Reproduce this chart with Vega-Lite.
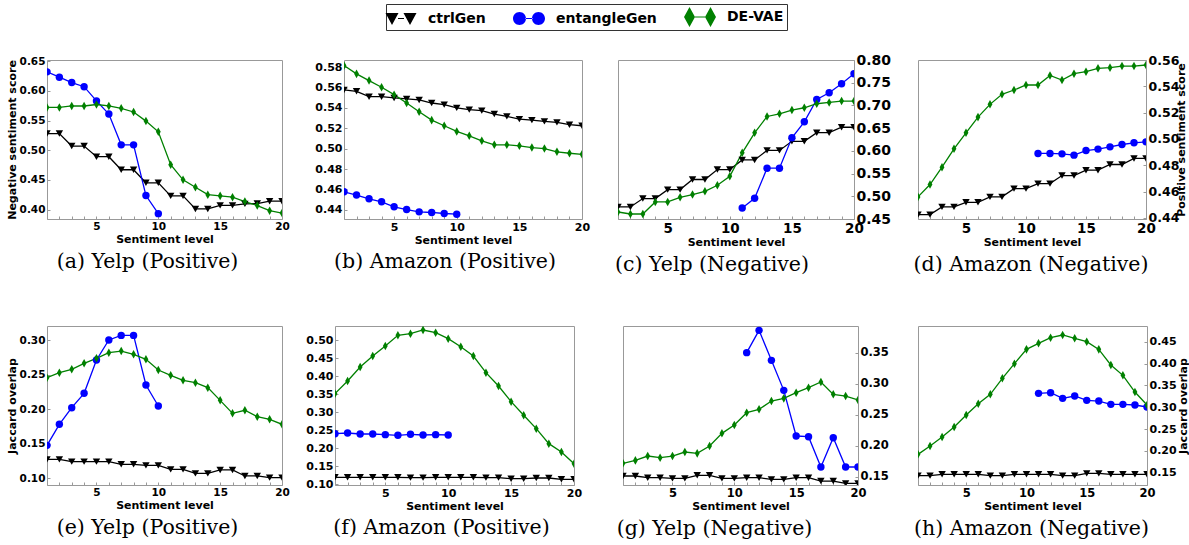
{
"$schema": "https://vega.github.io/schema/vega-lite/v6.json",
"padding": {"left": 5, "top": 3, "right": 0, "bottom": 0},
"background": "white",
"datasets": {
"a": [
{"m":"ctrlGen","x":1,"y":0.528},{"m":"ctrlGen","x":2,"y":0.528},{"m":"ctrlGen","x":3,"y":0.507},{"m":"ctrlGen","x":4,"y":0.507},{"m":"ctrlGen","x":5,"y":0.489},{"m":"ctrlGen","x":6,"y":0.489},{"m":"ctrlGen","x":7,"y":0.467},{"m":"ctrlGen","x":8,"y":0.467},{"m":"ctrlGen","x":9,"y":0.445},{"m":"ctrlGen","x":10,"y":0.445},{"m":"ctrlGen","x":11,"y":0.423},{"m":"ctrlGen","x":12,"y":0.423},{"m":"ctrlGen","x":13,"y":0.401},{"m":"ctrlGen","x":14,"y":0.401},{"m":"ctrlGen","x":15,"y":0.407},{"m":"ctrlGen","x":16,"y":0.407},{"m":"ctrlGen","x":17,"y":0.4095},{"m":"ctrlGen","x":18,"y":0.41},{"m":"ctrlGen","x":19,"y":0.414},{"m":"ctrlGen","x":20,"y":0.414},
{"m":"entangleGen","x":1,"y":0.632},{"m":"entangleGen","x":2,"y":0.623},{"m":"entangleGen","x":3,"y":0.614},{"m":"entangleGen","x":4,"y":0.607},{"m":"entangleGen","x":5,"y":0.583},{"m":"entangleGen","x":6,"y":0.561},{"m":"entangleGen","x":7,"y":0.509},{"m":"entangleGen","x":8,"y":0.509},{"m":"entangleGen","x":9,"y":0.4235},{"m":"entangleGen","x":10,"y":0.393},
{"m":"DE-VAE","x":1,"y":0.572},{"m":"DE-VAE","x":2,"y":0.572},{"m":"DE-VAE","x":3,"y":0.5745},{"m":"DE-VAE","x":4,"y":0.5745},{"m":"DE-VAE","x":5,"y":0.577},{"m":"DE-VAE","x":6,"y":0.5745},{"m":"DE-VAE","x":7,"y":0.5706},{"m":"DE-VAE","x":8,"y":0.5644},{"m":"DE-VAE","x":9,"y":0.549},{"m":"DE-VAE","x":10,"y":0.531},{"m":"DE-VAE","x":11,"y":0.4755},{"m":"DE-VAE","x":12,"y":0.45},{"m":"DE-VAE","x":13,"y":0.4375},{"m":"DE-VAE","x":14,"y":0.425},{"m":"DE-VAE","x":15,"y":0.423},{"m":"DE-VAE","x":16,"y":0.4207},{"m":"DE-VAE","x":17,"y":0.4134},{"m":"DE-VAE","x":18,"y":0.4067},{"m":"DE-VAE","x":19,"y":0.398},{"m":"DE-VAE","x":20,"y":0.394}
],
"b": [
{"m":"ctrlGen","x":1,"y":0.5576},{"m":"ctrlGen","x":2,"y":0.5563},{"m":"ctrlGen","x":3,"y":0.551},{"m":"ctrlGen","x":4,"y":0.551},{"m":"ctrlGen","x":5,"y":0.5498},{"m":"ctrlGen","x":6,"y":0.5488},{"m":"ctrlGen","x":7,"y":0.5478},{"m":"ctrlGen","x":8,"y":0.5448},{"m":"ctrlGen","x":9,"y":0.5432},{"m":"ctrlGen","x":10,"y":0.54},{"m":"ctrlGen","x":11,"y":0.5383},{"m":"ctrlGen","x":12,"y":0.5373},{"m":"ctrlGen","x":13,"y":0.534},{"m":"ctrlGen","x":14,"y":0.5317},{"m":"ctrlGen","x":15,"y":0.529},{"m":"ctrlGen","x":16,"y":0.528},{"m":"ctrlGen","x":17,"y":0.5268},{"m":"ctrlGen","x":18,"y":0.5258},{"m":"ctrlGen","x":19,"y":0.5235},{"m":"ctrlGen","x":20,"y":0.5225},
{"m":"entangleGen","x":1,"y":0.4577},{"m":"entangleGen","x":2,"y":0.4545},{"m":"entangleGen","x":3,"y":0.4508},{"m":"entangleGen","x":4,"y":0.4479},{"m":"entangleGen","x":5,"y":0.443},{"m":"entangleGen","x":6,"y":0.4403},{"m":"entangleGen","x":7,"y":0.438},{"m":"entangleGen","x":8,"y":0.4374},{"m":"entangleGen","x":9,"y":0.4364},{"m":"entangleGen","x":10,"y":0.4357},
{"m":"DE-VAE","x":1,"y":0.5816},{"m":"DE-VAE","x":2,"y":0.5734},{"m":"DE-VAE","x":3,"y":0.5668},{"m":"DE-VAE","x":4,"y":0.5603},{"m":"DE-VAE","x":5,"y":0.553},{"m":"DE-VAE","x":6,"y":0.5448},{"m":"DE-VAE","x":7,"y":0.5363},{"m":"DE-VAE","x":8,"y":0.528},{"m":"DE-VAE","x":9,"y":0.5225},{"m":"DE-VAE","x":10,"y":0.5169},{"m":"DE-VAE","x":11,"y":0.5126},{"m":"DE-VAE","x":12,"y":0.5077},{"m":"DE-VAE","x":13,"y":0.5038},{"m":"DE-VAE","x":14,"y":0.5038},{"m":"DE-VAE","x":15,"y":0.5028},{"m":"DE-VAE","x":16,"y":0.5011},{"m":"DE-VAE","x":17,"y":0.5001},{"m":"DE-VAE","x":18,"y":0.4969},{"m":"DE-VAE","x":19,"y":0.4955},{"m":"DE-VAE","x":20,"y":0.4945}
],
"c": [
{"m":"ctrlGen","x":1,"y":0.4765},{"m":"ctrlGen","x":2,"y":0.4765},{"m":"ctrlGen","x":3,"y":0.495},{"m":"ctrlGen","x":4,"y":0.495},{"m":"ctrlGen","x":5,"y":0.5147},{"m":"ctrlGen","x":6,"y":0.5147},{"m":"ctrlGen","x":7,"y":0.537},{"m":"ctrlGen","x":8,"y":0.537},{"m":"ctrlGen","x":9,"y":0.5588},{"m":"ctrlGen","x":10,"y":0.5588},{"m":"ctrlGen","x":11,"y":0.58},{"m":"ctrlGen","x":12,"y":0.58},{"m":"ctrlGen","x":13,"y":0.601},{"m":"ctrlGen","x":14,"y":0.601},{"m":"ctrlGen","x":15,"y":0.621},{"m":"ctrlGen","x":16,"y":0.621},{"m":"ctrlGen","x":17,"y":0.64},{"m":"ctrlGen","x":18,"y":0.64},{"m":"ctrlGen","x":19,"y":0.652},{"m":"ctrlGen","x":20,"y":0.652},
{"m":"entangleGen","x":11,"y":0.4743},{"m":"entangleGen","x":12,"y":0.4956},{"m":"entangleGen","x":13,"y":0.5618},{"m":"entangleGen","x":14,"y":0.5618},{"m":"entangleGen","x":15,"y":0.6287},{"m":"entangleGen","x":16,"y":0.664},{"m":"entangleGen","x":17,"y":0.7132},{"m":"entangleGen","x":18,"y":0.7279},{"m":"entangleGen","x":19,"y":0.7478},{"m":"entangleGen","x":20,"y":0.7699},
{"m":"DE-VAE","x":1,"y":0.4654},{"m":"DE-VAE","x":2,"y":0.461},{"m":"DE-VAE","x":3,"y":0.461},{"m":"DE-VAE","x":4,"y":0.4875},{"m":"DE-VAE","x":5,"y":0.4875},{"m":"DE-VAE","x":6,"y":0.4978},{"m":"DE-VAE","x":7,"y":0.5037},{"m":"DE-VAE","x":8,"y":0.511},{"m":"DE-VAE","x":9,"y":0.5243},{"m":"DE-VAE","x":10,"y":0.5441},{"m":"DE-VAE","x":11,"y":0.5956},{"m":"DE-VAE","x":12,"y":0.6397},{"m":"DE-VAE","x":13,"y":0.6757},{"m":"DE-VAE","x":14,"y":0.6816},{"m":"DE-VAE","x":15,"y":0.6897},{"m":"DE-VAE","x":16,"y":0.6949},{"m":"DE-VAE","x":17,"y":0.7037},{"m":"DE-VAE","x":18,"y":0.7066},{"m":"DE-VAE","x":19,"y":0.7096},{"m":"DE-VAE","x":20,"y":0.7096}
],
"d": [
{"m":"ctrlGen","x":1,"y":0.4425},{"m":"ctrlGen","x":2,"y":0.4425},{"m":"ctrlGen","x":3,"y":0.4484},{"m":"ctrlGen","x":4,"y":0.4484},{"m":"ctrlGen","x":5,"y":0.4519},{"m":"ctrlGen","x":6,"y":0.4519},{"m":"ctrlGen","x":7,"y":0.456},{"m":"ctrlGen","x":8,"y":0.456},{"m":"ctrlGen","x":9,"y":0.4623},{"m":"ctrlGen","x":10,"y":0.4623},{"m":"ctrlGen","x":11,"y":0.4661},{"m":"ctrlGen","x":12,"y":0.4661},{"m":"ctrlGen","x":13,"y":0.4722},{"m":"ctrlGen","x":14,"y":0.4722},{"m":"ctrlGen","x":15,"y":0.4763},{"m":"ctrlGen","x":16,"y":0.4763},{"m":"ctrlGen","x":17,"y":0.4806},{"m":"ctrlGen","x":18,"y":0.4806},{"m":"ctrlGen","x":19,"y":0.4852},{"m":"ctrlGen","x":20,"y":0.4852},
{"m":"entangleGen","x":11,"y":0.489},{"m":"entangleGen","x":12,"y":0.489},{"m":"entangleGen","x":13,"y":0.4887},{"m":"entangleGen","x":14,"y":0.4877},{"m":"entangleGen","x":15,"y":0.4912},{"m":"entangleGen","x":16,"y":0.4923},{"m":"entangleGen","x":17,"y":0.494},{"m":"entangleGen","x":18,"y":0.4958},{"m":"entangleGen","x":19,"y":0.4971},{"m":"entangleGen","x":20,"y":0.4978},
{"m":"DE-VAE","x":1,"y":0.456},{"m":"DE-VAE","x":2,"y":0.4654},{"m":"DE-VAE","x":3,"y":0.4786},{"m":"DE-VAE","x":4,"y":0.4925},{"m":"DE-VAE","x":5,"y":0.5047},{"m":"DE-VAE","x":6,"y":0.5166},{"m":"DE-VAE","x":7,"y":0.5263},{"m":"DE-VAE","x":8,"y":0.5339},{"m":"DE-VAE","x":9,"y":0.5372},{"m":"DE-VAE","x":10,"y":0.541},{"m":"DE-VAE","x":11,"y":0.541},{"m":"DE-VAE","x":12,"y":0.5483},{"m":"DE-VAE","x":13,"y":0.5448},{"m":"DE-VAE","x":14,"y":0.5496},{"m":"DE-VAE","x":15,"y":0.5511},{"m":"DE-VAE","x":16,"y":0.5537},{"m":"DE-VAE","x":17,"y":0.5542},{"m":"DE-VAE","x":18,"y":0.5554},{"m":"DE-VAE","x":19,"y":0.5554},{"m":"DE-VAE","x":20,"y":0.5562}
],
"e": [
{"m":"ctrlGen","x":1,"y":0.1275},{"m":"ctrlGen","x":2,"y":0.1275},{"m":"ctrlGen","x":3,"y":0.1242},{"m":"ctrlGen","x":4,"y":0.1242},{"m":"ctrlGen","x":5,"y":0.1242},{"m":"ctrlGen","x":6,"y":0.1242},{"m":"ctrlGen","x":7,"y":0.1203},{"m":"ctrlGen","x":8,"y":0.1203},{"m":"ctrlGen","x":9,"y":0.1188},{"m":"ctrlGen","x":10,"y":0.1188},{"m":"ctrlGen","x":11,"y":0.113},{"m":"ctrlGen","x":12,"y":0.113},{"m":"ctrlGen","x":13,"y":0.1072},{"m":"ctrlGen","x":14,"y":0.1072},{"m":"ctrlGen","x":15,"y":0.1121},{"m":"ctrlGen","x":16,"y":0.1121},{"m":"ctrlGen","x":17,"y":0.1034},{"m":"ctrlGen","x":18,"y":0.1034},{"m":"ctrlGen","x":19,"y":0.101},{"m":"ctrlGen","x":20,"y":0.101},
{"m":"entangleGen","x":1,"y":0.1478},{"m":"entangleGen","x":2,"y":0.1783},{"m":"entangleGen","x":3,"y":0.2024},{"m":"entangleGen","x":4,"y":0.2232},{"m":"entangleGen","x":5,"y":0.2715},{"m":"entangleGen","x":6,"y":0.3005},{"m":"entangleGen","x":7,"y":0.3072},{"m":"entangleGen","x":8,"y":0.3072},{"m":"entangleGen","x":9,"y":0.2353},{"m":"entangleGen","x":10,"y":0.2048},
{"m":"DE-VAE","x":1,"y":0.2459},{"m":"DE-VAE","x":2,"y":0.2531},{"m":"DE-VAE","x":3,"y":0.258},{"m":"DE-VAE","x":4,"y":0.2667},{"m":"DE-VAE","x":5,"y":0.2739},{"m":"DE-VAE","x":6,"y":0.2821},{"m":"DE-VAE","x":7,"y":0.2845},{"m":"DE-VAE","x":8,"y":0.2797},{"m":"DE-VAE","x":9,"y":0.2725},{"m":"DE-VAE","x":10,"y":0.257},{"m":"DE-VAE","x":11,"y":0.2493},{"m":"DE-VAE","x":12,"y":0.242},{"m":"DE-VAE","x":13,"y":0.2386},{"m":"DE-VAE","x":14,"y":0.2314},{"m":"DE-VAE","x":15,"y":0.213},{"m":"DE-VAE","x":16,"y":0.1942},{"m":"DE-VAE","x":17,"y":0.1986},{"m":"DE-VAE","x":18,"y":0.1894},{"m":"DE-VAE","x":19,"y":0.1855},{"m":"DE-VAE","x":20,"y":0.1783}
],
"f": [
{"m":"ctrlGen","x":1,"y":0.1194},{"m":"ctrlGen","x":2,"y":0.1194},{"m":"ctrlGen","x":3,"y":0.1194},{"m":"ctrlGen","x":4,"y":0.1194},{"m":"ctrlGen","x":5,"y":0.1194},{"m":"ctrlGen","x":6,"y":0.1194},{"m":"ctrlGen","x":7,"y":0.1185},{"m":"ctrlGen","x":8,"y":0.1185},{"m":"ctrlGen","x":9,"y":0.1194},{"m":"ctrlGen","x":10,"y":0.1194},{"m":"ctrlGen","x":11,"y":0.1194},{"m":"ctrlGen","x":12,"y":0.1194},{"m":"ctrlGen","x":13,"y":0.1185},{"m":"ctrlGen","x":14,"y":0.1185},{"m":"ctrlGen","x":15,"y":0.1157},{"m":"ctrlGen","x":16,"y":0.1157},{"m":"ctrlGen","x":17,"y":0.1176},{"m":"ctrlGen","x":18,"y":0.1176},{"m":"ctrlGen","x":19,"y":0.1139},{"m":"ctrlGen","x":20,"y":0.1139},
{"m":"entangleGen","x":1,"y":0.2407},{"m":"entangleGen","x":2,"y":0.2426},{"m":"entangleGen","x":3,"y":0.2398},{"m":"entangleGen","x":4,"y":0.2398},{"m":"entangleGen","x":5,"y":0.238},{"m":"entangleGen","x":6,"y":0.2361},{"m":"entangleGen","x":7,"y":0.2389},{"m":"entangleGen","x":8,"y":0.237},{"m":"entangleGen","x":9,"y":0.238},{"m":"entangleGen","x":10,"y":0.237},
{"m":"DE-VAE","x":1,"y":0.3519},{"m":"DE-VAE","x":2,"y":0.387},{"m":"DE-VAE","x":3,"y":0.4259},{"m":"DE-VAE","x":4,"y":0.4565},{"m":"DE-VAE","x":5,"y":0.4843},{"m":"DE-VAE","x":6,"y":0.5139},{"m":"DE-VAE","x":7,"y":0.5185},{"m":"DE-VAE","x":8,"y":0.5287},{"m":"DE-VAE","x":9,"y":0.5213},{"m":"DE-VAE","x":10,"y":0.5046},{"m":"DE-VAE","x":11,"y":0.4824},{"m":"DE-VAE","x":12,"y":0.4565},{"m":"DE-VAE","x":13,"y":0.4102},{"m":"DE-VAE","x":14,"y":0.3731},{"m":"DE-VAE","x":15,"y":0.3296},{"m":"DE-VAE","x":16,"y":0.2917},{"m":"DE-VAE","x":17,"y":0.2546},{"m":"DE-VAE","x":18,"y":0.213},{"m":"DE-VAE","x":19,"y":0.1898},{"m":"DE-VAE","x":20,"y":0.1574}
],
"g": [
{"m":"ctrlGen","x":1,"y":0.1511},{"m":"ctrlGen","x":2,"y":0.1511},{"m":"ctrlGen","x":3,"y":0.1484},{"m":"ctrlGen","x":4,"y":0.1484},{"m":"ctrlGen","x":5,"y":0.1473},{"m":"ctrlGen","x":6,"y":0.1473},{"m":"ctrlGen","x":7,"y":0.1522},{"m":"ctrlGen","x":8,"y":0.1522},{"m":"ctrlGen","x":9,"y":0.1473},{"m":"ctrlGen","x":10,"y":0.1473},{"m":"ctrlGen","x":11,"y":0.1484},{"m":"ctrlGen","x":12,"y":0.1484},{"m":"ctrlGen","x":13,"y":0.1457},{"m":"ctrlGen","x":14,"y":0.1457},{"m":"ctrlGen","x":15,"y":0.1484},{"m":"ctrlGen","x":16,"y":0.1484},{"m":"ctrlGen","x":17,"y":0.143},{"m":"ctrlGen","x":18,"y":0.143},{"m":"ctrlGen","x":19,"y":0.1392},{"m":"ctrlGen","x":20,"y":0.1392},
{"m":"entangleGen","x":11,"y":0.35},{"m":"entangleGen","x":12,"y":0.386},{"m":"entangleGen","x":13,"y":0.3376},{"m":"entangleGen","x":14,"y":0.2892},{"m":"entangleGen","x":15,"y":0.2156},{"m":"entangleGen","x":16,"y":0.2145},{"m":"entangleGen","x":17,"y":0.1656},{"m":"entangleGen","x":18,"y":0.2129},{"m":"entangleGen","x":19,"y":0.1656},{"m":"entangleGen","x":20,"y":0.1656},
{"m":"DE-VAE","x":1,"y":0.1715},{"m":"DE-VAE","x":2,"y":0.1763},{"m":"DE-VAE","x":3,"y":0.1833},{"m":"DE-VAE","x":4,"y":0.1806},{"m":"DE-VAE","x":5,"y":0.1833},{"m":"DE-VAE","x":6,"y":0.1898},{"m":"DE-VAE","x":7,"y":0.1876},{"m":"DE-VAE","x":8,"y":0.1995},{"m":"DE-VAE","x":9,"y":0.2199},{"m":"DE-VAE","x":10,"y":0.2333},{"m":"DE-VAE","x":11,"y":0.2532},{"m":"DE-VAE","x":12,"y":0.2586},{"m":"DE-VAE","x":13,"y":0.272},{"m":"DE-VAE","x":14,"y":0.2763},{"m":"DE-VAE","x":15,"y":0.2855},{"m":"DE-VAE","x":16,"y":0.2935},{"m":"DE-VAE","x":17,"y":0.3027},{"m":"DE-VAE","x":18,"y":0.2828},{"m":"DE-VAE","x":19,"y":0.2801},{"m":"DE-VAE","x":20,"y":0.2737}
],
"h": [
{"m":"ctrlGen","x":1,"y":0.1432},{"m":"ctrlGen","x":2,"y":0.1432},{"m":"ctrlGen","x":3,"y":0.1463},{"m":"ctrlGen","x":4,"y":0.1463},{"m":"ctrlGen","x":5,"y":0.1463},{"m":"ctrlGen","x":6,"y":0.1463},{"m":"ctrlGen","x":7,"y":0.1432},{"m":"ctrlGen","x":8,"y":0.1432},{"m":"ctrlGen","x":9,"y":0.1463},{"m":"ctrlGen","x":10,"y":0.1463},{"m":"ctrlGen","x":11,"y":0.1463},{"m":"ctrlGen","x":12,"y":0.1463},{"m":"ctrlGen","x":13,"y":0.1432},{"m":"ctrlGen","x":14,"y":0.1432},{"m":"ctrlGen","x":15,"y":0.1485},{"m":"ctrlGen","x":16,"y":0.1485},{"m":"ctrlGen","x":17,"y":0.1463},{"m":"ctrlGen","x":18,"y":0.1463},{"m":"ctrlGen","x":19,"y":0.1463},{"m":"ctrlGen","x":20,"y":0.1463},
{"m":"entangleGen","x":11,"y":0.3317},{"m":"entangleGen","x":12,"y":0.3332},{"m":"entangleGen","x":13,"y":0.3202},{"m":"entangleGen","x":14,"y":0.3256},{"m":"entangleGen","x":15,"y":0.3156},{"m":"entangleGen","x":16,"y":0.3141},{"m":"entangleGen","x":17,"y":0.3065},{"m":"entangleGen","x":18,"y":0.3065},{"m":"entangleGen","x":19,"y":0.305},{"m":"entangleGen","x":20,"y":0.3004},
{"m":"DE-VAE","x":1,"y":0.192},{"m":"DE-VAE","x":2,"y":0.2111},{"m":"DE-VAE","x":3,"y":0.2317},{"m":"DE-VAE","x":4,"y":0.2546},{"m":"DE-VAE","x":5,"y":0.2821},{"m":"DE-VAE","x":6,"y":0.308},{"m":"DE-VAE","x":7,"y":0.3294},{"m":"DE-VAE","x":8,"y":0.366},{"m":"DE-VAE","x":9,"y":0.3996},{"m":"DE-VAE","x":10,"y":0.4324},{"m":"DE-VAE","x":11,"y":0.4462},{"m":"DE-VAE","x":12,"y":0.4592},{"m":"DE-VAE","x":13,"y":0.4653},{"m":"DE-VAE","x":14,"y":0.4576},{"m":"DE-VAE","x":15,"y":0.45},{"m":"DE-VAE","x":16,"y":0.4324},{"m":"DE-VAE","x":17,"y":0.3966},{"m":"DE-VAE","x":18,"y":0.3729},{"m":"DE-VAE","x":19,"y":0.3347},{"m":"DE-VAE","x":20,"y":0.305}
]
},
"vconcat": [
{"spacing": 23, "hconcat": [
{"spacing": 24, "hconcat": [
{"width": 235, "height": 159, "data": {"name": "a"}, "title": {"text": "(a) Yelp (Positive)", "dx": -17},
 "encoding": {
  "x": {"field": "x", "type": "quantitative", "scale": {"domain": [1, 20], "nice": false, "zero": false}, "axis": {"title": "Sentiment level", "values": [1,2,3,4,5,6,7,8,9,10,11,12,13,14,15,16,17,18,19,20], "labelExpr": "datum.value % 5 == 0 ? datum.label : ''", "labelFontSize": 10.5}},
  "y": {"field": "y", "type": "quantitative", "scale": {"domain": [0.384, 0.652], "nice": false, "zero": false}, "axis": {"title": "Negative sentiment score", "values": [0.4, 0.45, 0.5, 0.55, 0.6, 0.65], "format": ".2f", "labelFontSize": 10.5}},
  "color": {"field": "m", "type": "nominal", "scale": {"domain": ["ctrlGen", "entangleGen", "DE-VAE"], "range": ["#000000", "#0000ff", "#008000"]},
   "legend": {"title": null, "orient": "none", "legendX": 339, "legendY": -56, "direction": "horizontal", "padding": 3, "strokeColor": "#333333", "fillColor": "#ffffff", "labelFont": "DejaVu Sans", "labelFontSize": 14, "labelFontWeight": "bold", "labelColor": "#000000", "symbolSize": 400, "symbolOffset": 2, "labelOffset": 17, "columnPadding": 27,
    "encode": {"symbols": {"update": {"shape": {"signal": "datum.value == 'ctrlGen' ? 'M-1.55,-0.55L-0.25,-0.55L-0.9,0.65Z M0.25,-0.55L1.55,-0.55L0.9,0.65Z M-0.3,-0.06L0.3,-0.06L0.3,0.06L-0.3,0.06Z' : datum.value == 'entangleGen' ? 'M-1.6,0A0.65,0.65,0,1,0,-0.3,0A0.65,0.65,0,1,0,-1.6,0Z M0.3,0A0.65,0.65,0,1,0,1.6,0A0.65,0.65,0,1,0,0.3,0Z M-0.35,-0.06L0.35,-0.06L0.35,0.06L-0.35,0.06Z' : 'M-1.05,-1L-0.5,0L-1.05,1L-1.6,0Z M1.05,-1L1.6,0L1.05,1L0.5,0Z M-0.5,-0.06L0.5,-0.06L0.5,0.06L-0.5,0.06Z'"}, "fill": {"signal": "datum.value == 'ctrlGen' ? '#000000' : datum.value == 'entangleGen' ? '#0000ff' : '#008000'"}, "strokeWidth": {"value": 0}, "opacity": {"value": 1}, "fillOpacity": {"value": 1}}}}}}
 },
 "layer": [
  {"mark": {"type": "line", "strokeWidth": 1.3, "clip": true}},
  {"transform": [{"filter": "datum.m == 'ctrlGen'"}], "mark": {"type": "point", "filled": true, "opacity": 1, "size": 55, "shape": "triangle-down", "clip": true}},
  {"transform": [{"filter": "datum.m == 'entangleGen'"}], "mark": {"type": "point", "filled": true, "opacity": 1, "size": 55, "shape": "circle", "clip": true}},
  {"transform": [{"filter": "datum.m == 'DE-VAE'"}], "mark": {"type": "point", "filled": true, "opacity": 1, "size": 55, "shape": "M0,-1.15L0.65,0L0,1.15L-0.65,0Z", "clip": true}}
 ]},
{"width": 238, "height": 159, "data": {"name": "b"}, "title": {"text": "(b) Amazon (Positive)", "dx": -18},
 "encoding": {
  "x": {"field": "x", "type": "quantitative", "scale": {"domain": [1, 20], "nice": false, "zero": false}, "axis": {"title": "Sentiment level", "values": [1,2,3,4,5,6,7,8,9,10,11,12,13,14,15,16,17,18,19,20], "labelExpr": "datum.value % 5 == 0 ? datum.label : ''", "labelFontSize": 11}},
  "y": {"field": "y", "type": "quantitative", "scale": {"domain": [0.431, 0.587], "nice": false, "zero": false}, "axis": {"title": null, "values": [0.44, 0.46, 0.48, 0.5, 0.52, 0.54, 0.56, 0.58], "format": ".2f", "labelFontSize": 11}},
  "color": {"field": "m", "type": "nominal", "scale": {"domain": ["ctrlGen", "entangleGen", "DE-VAE"], "range": ["#000000", "#0000ff", "#008000"]}}
 },
 "layer": [
  {"mark": {"type": "line", "strokeWidth": 1.3, "clip": true}},
  {"transform": [{"filter": "datum.m == 'ctrlGen'"}], "mark": {"type": "point", "filled": true, "opacity": 1, "size": 55, "shape": "triangle-down", "clip": true}},
  {"transform": [{"filter": "datum.m == 'entangleGen'"}], "mark": {"type": "point", "filled": true, "opacity": 1, "size": 55, "shape": "circle", "clip": true}},
  {"transform": [{"filter": "datum.m == 'DE-VAE'"}], "mark": {"type": "point", "filled": true, "opacity": 1, "size": 55, "shape": "M0,-1.15L0.65,0L0,1.15L-0.65,0Z", "clip": true}}
 ]}
]},
{"spacing": 21, "hconcat": [
{"width": 236, "height": 159, "data": {"name": "c"}, "title": {"text": "(c) Yelp (Negative)", "dx": -24},
 "encoding": {
  "x": {"field": "x", "type": "quantitative", "scale": {"domain": [1, 20], "nice": false, "zero": false}, "axis": {"title": "Sentiment level", "values": [1,2,3,4,5,6,7,8,9,10,11,12,13,14,15,16,17,18,19,20], "labelExpr": "datum.value % 5 == 0 ? datum.label : ''", "labelFontSize": 13.5}},
  "y": {"field": "y", "type": "quantitative", "scale": {"domain": [0.45, 0.8], "nice": false, "zero": false}, "axis": {"title": null, "orient": "right", "values": [0.45, 0.5, 0.55, 0.6, 0.65, 0.7, 0.75, 0.8], "format": ".2f", "labelFontSize": 14}},
  "color": {"field": "m", "type": "nominal", "scale": {"domain": ["ctrlGen", "entangleGen", "DE-VAE"], "range": ["#000000", "#0000ff", "#008000"]}}
 },
 "layer": [
  {"mark": {"type": "line", "strokeWidth": 1.3, "clip": true}},
  {"transform": [{"filter": "datum.m == 'ctrlGen'"}], "mark": {"type": "point", "filled": true, "opacity": 1, "size": 55, "shape": "triangle-down", "clip": true}},
  {"transform": [{"filter": "datum.m == 'entangleGen'"}], "mark": {"type": "point", "filled": true, "opacity": 1, "size": 55, "shape": "circle", "clip": true}},
  {"transform": [{"filter": "datum.m == 'DE-VAE'"}], "mark": {"type": "point", "filled": true, "opacity": 1, "size": 55, "shape": "M0,-1.15L0.65,0L0,1.15L-0.65,0Z", "clip": true}}
 ]},
{"width": 228, "height": 159, "data": {"name": "d"}, "title": {"text": "(d) Amazon (Negative)", "dx": -1},
 "encoding": {
  "x": {"field": "x", "type": "quantitative", "scale": {"domain": [1, 20], "nice": false, "zero": false}, "axis": {"title": "Sentiment level", "values": [1,2,3,4,5,6,7,8,9,10,11,12,13,14,15,16,17,18,19,20], "labelExpr": "datum.value % 5 == 0 ? datum.label : ''", "labelFontSize": 13.5}},
  "y": {"field": "y", "type": "quantitative", "scale": {"domain": [0.4392, 0.56], "nice": false, "zero": false}, "axis": {"title": "Positive sentiment score", "orient": "right", "titleAngle": 270, "titleBaseline": "top", "titlePadding": -3, "values": [0.44, 0.46, 0.48, 0.5, 0.52, 0.54, 0.56], "format": ".2f", "labelFontSize": 12.5}},
  "color": {"field": "m", "type": "nominal", "scale": {"domain": ["ctrlGen", "entangleGen", "DE-VAE"], "range": ["#000000", "#0000ff", "#008000"]}}
 },
 "layer": [
  {"mark": {"type": "line", "strokeWidth": 1.3, "clip": true}},
  {"transform": [{"filter": "datum.m == 'ctrlGen'"}], "mark": {"type": "point", "filled": true, "opacity": 1, "size": 55, "shape": "triangle-down", "clip": true}},
  {"transform": [{"filter": "datum.m == 'entangleGen'"}], "mark": {"type": "point", "filled": true, "opacity": 1, "size": 55, "shape": "circle", "clip": true}},
  {"transform": [{"filter": "datum.m == 'DE-VAE'"}], "mark": {"type": "point", "filled": true, "opacity": 1, "size": 55, "shape": "M0,-1.15L0.65,0L0,1.15L-0.65,0Z", "clip": true}}
 ]}
]}
]},
{"spacing": 33, "hconcat": [
{"spacing": 15, "hconcat": [
{"width": 235, "height": 159, "data": {"name": "e"}, "title": {"text": "(e) Yelp (Positive)", "dx": -17},
 "encoding": {
  "x": {"field": "x", "type": "quantitative", "scale": {"domain": [1, 20], "nice": false, "zero": false}, "axis": {"title": "Sentiment level", "values": [1,2,3,4,5,6,7,8,9,10,11,12,13,14,15,16,17,18,19,20], "labelExpr": "datum.value % 5 == 0 ? datum.label : ''", "labelFontSize": 10.5}},
  "y": {"field": "y", "type": "quantitative", "scale": {"domain": [0.0903, 0.3208], "nice": false, "zero": false}, "axis": {"title": "Jaccard overlap", "values": [0.1, 0.15, 0.2, 0.25, 0.3], "format": ".2f", "labelFontSize": 10.5}},
  "color": {"field": "m", "type": "nominal", "scale": {"domain": ["ctrlGen", "entangleGen", "DE-VAE"], "range": ["#000000", "#0000ff", "#008000"]}}
 },
 "layer": [
  {"mark": {"type": "line", "strokeWidth": 1.3, "clip": true}},
  {"transform": [{"filter": "datum.m == 'ctrlGen'"}], "mark": {"type": "point", "filled": true, "opacity": 1, "size": 55, "shape": "triangle-down", "clip": true}},
  {"transform": [{"filter": "datum.m == 'entangleGen'"}], "mark": {"type": "point", "filled": true, "opacity": 1, "size": 55, "shape": "circle", "clip": true}},
  {"transform": [{"filter": "datum.m == 'DE-VAE'"}], "mark": {"type": "point", "filled": true, "opacity": 1, "size": 55, "shape": "M0,-1.15L0.65,0L0,1.15L-0.65,0Z", "clip": true}}
 ]},
{"width": 239, "height": 159, "data": {"name": "f"}, "title": {"text": "(f) Amazon (Positive)", "dx": -13},
 "encoding": {
  "x": {"field": "x", "type": "quantitative", "scale": {"domain": [1, 20], "nice": false, "zero": false}, "axis": {"title": "Sentiment level", "values": [1,2,3,4,5,6,7,8,9,10,11,12,13,14,15,16,17,18,19,20], "labelExpr": "datum.value % 5 == 0 ? datum.label : ''", "labelFontSize": 11}},
  "y": {"field": "y", "type": "quantitative", "scale": {"domain": [0.0981, 0.5398], "nice": false, "zero": false}, "axis": {"title": null, "values": [0.1, 0.15, 0.2, 0.25, 0.3, 0.35, 0.4, 0.45, 0.5], "format": ".2f", "labelFontSize": 11}},
  "color": {"field": "m", "type": "nominal", "scale": {"domain": ["ctrlGen", "entangleGen", "DE-VAE"], "range": ["#000000", "#0000ff", "#008000"]}}
 },
 "layer": [
  {"mark": {"type": "line", "strokeWidth": 1.3, "clip": true}},
  {"transform": [{"filter": "datum.m == 'ctrlGen'"}], "mark": {"type": "point", "filled": true, "opacity": 1, "size": 55, "shape": "triangle-down", "clip": true}},
  {"transform": [{"filter": "datum.m == 'entangleGen'"}], "mark": {"type": "point", "filled": true, "opacity": 1, "size": 55, "shape": "circle", "clip": true}},
  {"transform": [{"filter": "datum.m == 'DE-VAE'"}], "mark": {"type": "point", "filled": true, "opacity": 1, "size": 55, "shape": "M0,-1.15L0.65,0L0,1.15L-0.65,0Z", "clip": true}}
 ]}
]},
{"spacing": 24, "hconcat": [
{"width": 235, "height": 159, "data": {"name": "g"}, "title": {"text": "(g) Yelp (Negative)", "dx": -26},
 "encoding": {
  "x": {"field": "x", "type": "quantitative", "scale": {"domain": [1, 20], "nice": false, "zero": false}, "axis": {"title": "Sentiment level", "values": [1,2,3,4,5,6,7,8,9,10,11,12,13,14,15,16,17,18,19,20], "labelExpr": "datum.value % 5 == 0 ? datum.label : ''", "labelFontSize": 11.5}},
  "y": {"field": "y", "type": "quantitative", "scale": {"domain": [0.1366, 0.393], "nice": false, "zero": false}, "axis": {"title": null, "orient": "right", "values": [0.15, 0.2, 0.25, 0.3, 0.35], "format": ".2f", "labelFontSize": 11.5}},
  "color": {"field": "m", "type": "nominal", "scale": {"domain": ["ctrlGen", "entangleGen", "DE-VAE"], "range": ["#000000", "#0000ff", "#008000"]}}
 },
 "layer": [
  {"mark": {"type": "line", "strokeWidth": 1.3, "clip": true}},
  {"transform": [{"filter": "datum.m == 'ctrlGen'"}], "mark": {"type": "point", "filled": true, "opacity": 1, "size": 55, "shape": "triangle-down", "clip": true}},
  {"transform": [{"filter": "datum.m == 'entangleGen'"}], "mark": {"type": "point", "filled": true, "opacity": 1, "size": 55, "shape": "circle", "clip": true}},
  {"transform": [{"filter": "datum.m == 'DE-VAE'"}], "mark": {"type": "point", "filled": true, "opacity": 1, "size": 55, "shape": "M0,-1.15L0.65,0L0,1.15L-0.65,0Z", "clip": true}}
 ]},
{"width": 229, "height": 159, "data": {"name": "h"}, "title": {"text": "(h) Amazon (Negative)", "dx": -1},
 "encoding": {
  "x": {"field": "x", "type": "quantitative", "scale": {"domain": [1, 20], "nice": false, "zero": false}, "axis": {"title": "Sentiment level", "values": [1,2,3,4,5,6,7,8,9,10,11,12,13,14,15,16,17,18,19,20], "labelExpr": "datum.value % 5 == 0 ? datum.label : ''", "labelFontSize": 11.5}},
  "y": {"field": "y", "type": "quantitative", "scale": {"domain": [0.1218, 0.4859], "nice": false, "zero": false}, "axis": {"title": "Jaccard overlap", "orient": "right", "titleAngle": 270, "titleBaseline": "top", "titlePadding": 1, "values": [0.15, 0.2, 0.25, 0.3, 0.35, 0.4, 0.45], "format": ".2f", "labelFontSize": 11}},
  "color": {"field": "m", "type": "nominal", "scale": {"domain": ["ctrlGen", "entangleGen", "DE-VAE"], "range": ["#000000", "#0000ff", "#008000"]}}
 },
 "layer": [
  {"mark": {"type": "line", "strokeWidth": 1.3, "clip": true}},
  {"transform": [{"filter": "datum.m == 'ctrlGen'"}], "mark": {"type": "point", "filled": true, "opacity": 1, "size": 55, "shape": "triangle-down", "clip": true}},
  {"transform": [{"filter": "datum.m == 'entangleGen'"}], "mark": {"type": "point", "filled": true, "opacity": 1, "size": 55, "shape": "circle", "clip": true}},
  {"transform": [{"filter": "datum.m == 'DE-VAE'"}], "mark": {"type": "point", "filled": true, "opacity": 1, "size": 55, "shape": "M0,-1.15L0.65,0L0,1.15L-0.65,0Z", "clip": true}}
 ]}
]}
]}
],
"spacing": 49,
"config": {
 "view": {"stroke": "#999999", "strokeWidth": 1},
 "axis": {"domain": false, "grid": false, "tickColor": "#999999", "tickSize": -3, "labelPadding": 5, "labelFont": "DejaVu Sans", "labelFontWeight": "bold", "labelColor": "#000000", "labelFlush": false, "labelOverlap": false, "titleFont": "DejaVu Sans", "titleFontWeight": "bold", "titleFontSize": 11, "titleColor": "#000000", "titlePadding": 2},
 "title": {"font": "DejaVu Serif", "fontSize": 20.5, "fontWeight": "normal", "color": "#000000", "orient": "bottom", "anchor": "middle", "frame": "group", "offset": 7}
}
}
